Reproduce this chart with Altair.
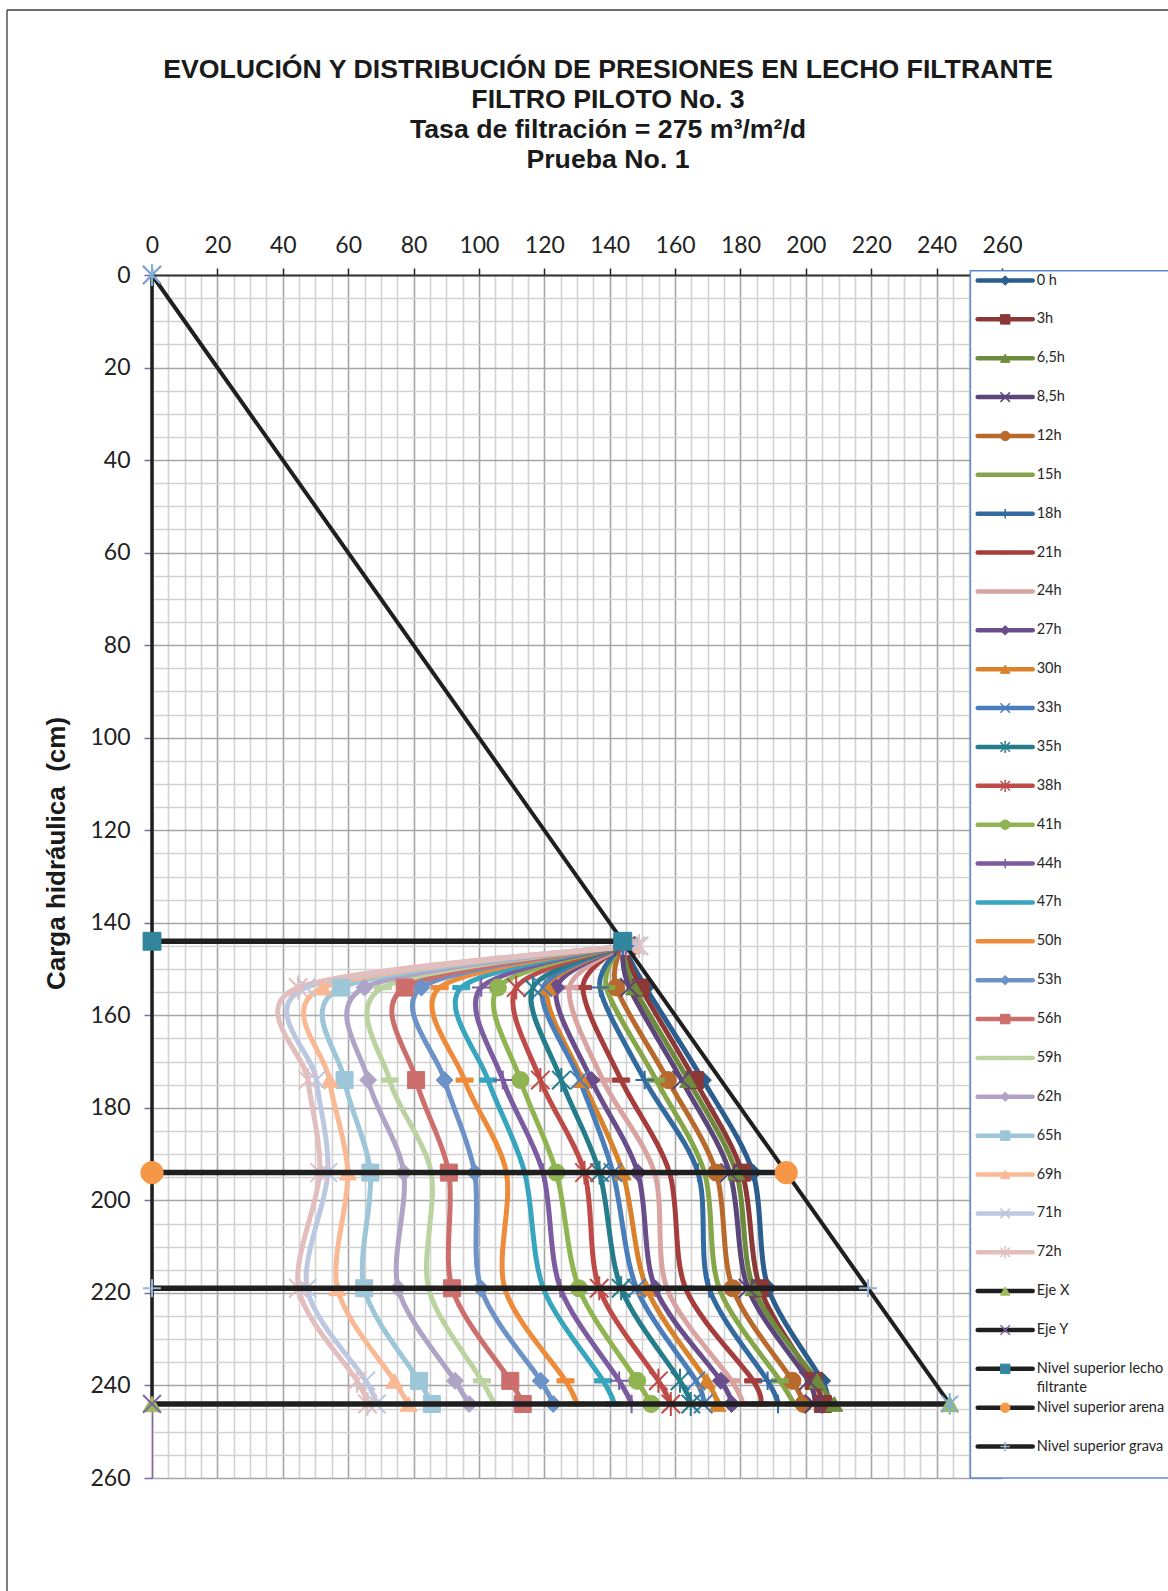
import altair as alt
import pandas as pd

# ---------------- data ----------------
series = ["0 h", "3h", "6,5h", "8,5h", "12h", "15h", "18h", "21h", "24h", "27h", "30h",
          "33h", "35h", "38h", "41h", "44h", "47h", "50h", "53h", "56h", "59h", "62h",
          "65h", "69h", "71h", "72h"]
depths = [145, 154, 174, 194, 219, 239, 244]
heads = [
    [144, 151.0, 168.5, 183.8, 188.5, 205.0, 206.5],   # 0 h
    [144, 149.5, 166.0, 180.5, 186.0, 202.4, 205.2],   # 3h
    [144, 147.5, 164.0, 178.7, 184.0, 203.5, 208.7],   # 6,5h
    [144, 146.0, 162.0, 176.7, 182.3, 200.8, 202.4],   # 8,5h
    [144, 142.0, 157.8, 172.6, 177.6, 195.9, 199.3],   # 12h
    [144, 139.0, 154.2, 169.0, 173.5, 192.1, 196.4],   # 15h
    [144, 137.0, 150.7, 167.0, 170.4, 188.3, 191.5],   # 18h
    [144, 131.8, 143.5, 158.3, 163.2, 183.9, 186.1],   # 21h
    [145, 127.7, 137.9, 153.7, 157.5, 177.3, 180.6],   # 24h
    [145, 123.7, 134.4, 148.6, 153.9, 174.0, 177.3],   # 27h
    [145, 121.1, 131.7, 144.0, 151.3, 169.7, 173.0],   # 30h
    [145, 119.6, 130.8, 141.0, 148.2, 166.4, 168.6],   # 33h
    [145, 116.5, 125.2, 136.9, 143.5, 161.5, 164.8],   # 35h
    [145, 111.4, 118.8, 132.3, 136.8, 154.9, 158.7],   # 38h
    [145, 105.8, 112.7, 123.7, 130.6, 148.4, 152.7],   # 41h
    [145, 100.7, 107.3, 119.6, 124.9, 142.9, 146.7],   # 44h
    [145, 94.6, 102.8, 114.0, 119.7, 138.0, 141.3],    # 47h
    [145, 88.0, 95.6, 108.4, 107.9, 126.5, 129.8],     # 50h
    [145, 82.4, 89.5, 98.7, 100.6, 118.9, 122.7],      # 53h
    [146, 77.3, 80.8, 90.8, 91.8, 109.6, 113.4],       # 56h
    [146, 70.6, 72.7, 85.4, 84.6, 100.9, 104.7],       # 59h
    [146, 65.0, 66.1, 77.0, 75.3, 92.7, 97.0],         # 62h
    [146, 57.9, 58.9, 66.8, 64.9, 81.7, 85.6],         # 65h
    [147, 52.3, 54.3, 59.9, 56.7, 74.1, 78.5],         # 69h
    [148, 47.2, 50.3, 53.8, 47.4, 65.4, 68.6],         # 71h
    [149, 44.7, 47.7, 51.3, 44.8, 62.7, 65.9],         # 72h
]
colors = ["#2C5D8F", "#8C3836", "#6E8B3D", "#5B467A", "#B8692C", "#86A64A", "#336AA0",
          "#A63D3D", "#D9A3A2", "#6A4E8C", "#D9822B", "#4A7EBB", "#257D8C", "#BE4B48",
          "#90B452", "#7C5CA1", "#37A5BD", "#EE8B3A", "#6D92C8", "#CC6E6C", "#BBD3A0",
          "#AFA4C6", "#9DC6D8", "#F8B994", "#BCC8E2", "#E2BFBE"]
markers = ["diamond", "square", "triangle", "x", "circle", "dash", "plus", "dash", "dash",
           "diamond", "triangle", "x", "asterisk", "asterisk", "circle", "plus", "dash", "dash",
           "diamond", "square", "dash", "diamond", "square", "triangle", "x", "asterisk"]

ref_names = ["Eje X", "Eje Y", "Nivel superior lecho filtrante", "Nivel superior arena",
             "Nivel superior grava"]
ref_x = [[0, 244], [0, 0], [0, 144], [0, 194], [0, 219]]
ref_y = [[244, 244], [0, 244], [144, 144], [194, 194], [219, 219]]
ref_colors = ["#9BBB59", "#8064A2", "#31859C", "#F79646", "#95B3D7"]
ref_markers = ["triangle", "x", "square", "circle", "plus"]
diag_x = [0, 244]
diag_y = [0, 244]
diag_color = "#7DB0DA"
diag_marker = "asterisk"

title_lines = ["EVOLUCIÓN Y DISTRIBUCIÓN DE PRESIONES EN LECHO FILTRANTE",
               "FILTRO PILOTO No. 3",
               "Tasa de filtración = 275 m³/m²/d",
               "Prueba No. 1"]
y_title = "Carga hidráulica\u00a0 (cm)"

# ---------------- styles ----------------
SHAPES = {
    "diamond": "diamond",
    "square": "square",
    "triangle": "triangle-up",
    "circle": "circle",
    "dash": "M-1,-0.25L1,-0.25L1,0.25L-1,0.25Z",
    "x": "M-1,-1L1,1M-1,1L1,-1",
    "plus": "M-1,0L1,0M0,-1L0,1",
    "asterisk": "M-1,-1L1,1M-1,1L1,-1M0,-1.3L0,1.3",
}
FILLED = {"diamond", "square", "triangle", "circle", "dash"}
BLACK = "#1F1F1F"

# ---------------- tables ----------------
rows = []
for s, c, m, h in zip(series, colors, markers, heads):
    for d, v in zip(depths, h):
        rows.append(dict(series=s, color=c, shape=SHAPES[m], filled=m in FILLED, x=v, y=d))
df = pd.DataFrame(rows)

ref_rows = []
for n, xs, ys, c, m in zip(ref_names, ref_x, ref_y, ref_colors, ref_markers):
    w = 3.5 if n == "Eje Y" else 5.5
    ms = 500 if m == "circle" else 320
    for k, (xv, yv) in enumerate(zip(xs, ys)):
        ref_rows.append(dict(name=n, k=k, x=xv, y=yv, w=w, color=c, shape=SHAPES[m],
                             filled=m in FILLED, ms=ms))
for k, (xv, yv) in enumerate(zip(diag_x, diag_y)):
    ref_rows.append(dict(name="diag", k=k, x=xv, y=yv, w=4, color=diag_color,
                         shape=SHAPES[diag_marker], filled=False, ms=280))
ref_df = pd.DataFrame(ref_rows)

wrap = {"Nivel superior lecho filtrante": "Nivel superior lecho\nfiltrante"}
leg_labels = series + ref_names
leg_df = pd.DataFrame(dict(
    li=list(range(len(leg_labels))),
    text=[wrap.get(t, t) for t in leg_labels],
    lc=colors + [BLACK] * len(ref_names),
    mc=colors + ref_colors,
    shape=[SHAPES[m] for m in markers + ref_markers],
    filled=[m in FILLED for m in markers + ref_markers],
))
title_df = pd.DataFrame({"t": ["\n".join(title_lines)]})

# ---------------- encodings ----------------
grid_vals = list(range(0, 261, 5))
major = "datum.value % 20 === 0"
axis_x = alt.Axis(
    orient="top", values=grid_vals, title=None,
    labelExpr=f"{major} ? datum.label : ''", labelOverlap=False, labelFlush=False,
    labelFont="Lato", labelFontSize=23, labelColor="#222222", labelPadding=11,
    tickSize=7, tickColor="#222222", tickWidth=1.5,
    tickOpacity={"condition": {"test": major, "value": 1}, "value": 0},
    grid=True, gridWidth=1.6,
    gridColor={"condition": {"test": major, "value": "#A6A6A6"}, "value": "#D2D2D2"},
    domainColor="#333333", domainWidth=2,
)
axis_y = alt.Axis(
    orient="left", values=grid_vals, title=y_title,
    labelExpr=f"{major} ? datum.label : ''", labelOverlap=False, labelFlush=False,
    labelFont="Lato", labelFontSize=23, labelColor="#222222", labelPadding=14,
    tickSize=8, tickColor="#7F6AA6", tickWidth=1.5,
    tickOpacity={"condition": {"test": major, "value": 1}, "value": 0},
    grid=True, gridWidth=1.6,
    gridColor={"condition": {"test": major, "value": "#A6A6A6"}, "value": "#D2D2D2"},
    domainColor="#7F6AA6", domainWidth=1.5,
    titleFont="Liberation Sans", titleFontSize=26, titleFontWeight="bold", titleColor="#1A1A1A",
    titleX=-96, titleY=578, titleAngle=270, titleBaseline="middle", titleAlign="center",
)
X = alt.X("x:Q", scale=alt.Scale(domain=[0, 260], nice=False, zero=False), axis=axis_x)
Y = alt.Y("y:Q", scale=alt.Scale(domain=[0, 260], nice=False, zero=False, reverse=True), axis=axis_y)

curves = alt.Chart(df).mark_line(
    interpolate="cardinal", tension=0.1, strokeWidth=5, strokeCap="round", strokeJoin="round"
).encode(x=X, y=Y, color=alt.Color("color:N", scale=None), detail="series:N", order="y:Q")

pts_f = alt.Chart(df).transform_filter("datum.filled").mark_point(
    filled=True, opacity=1, size=290, strokeWidth=1
).encode(x=X, y=Y, fill=alt.Fill("color:N", scale=None), stroke=alt.Stroke("color:N", scale=None),
         shape=alt.Shape("shape:N", scale=None))
pts_s = alt.Chart(df).transform_filter("!datum.filled").mark_point(
    filled=False, opacity=1, size=340, strokeWidth=2
).encode(x=X, y=Y, stroke=alt.Stroke("color:N", scale=None), shape=alt.Shape("shape:N", scale=None))

ref_lines = alt.Chart(ref_df).mark_line(color=BLACK, strokeCap="butt").encode(
    x=X, y=Y, detail="name:N", order="k:Q", strokeWidth=alt.StrokeWidth("w:Q", scale=None))
ref_pf = alt.Chart(ref_df).transform_filter("datum.filled").mark_point(
    filled=True, opacity=1, strokeWidth=1
).encode(x=X, y=Y, fill=alt.Fill("color:N", scale=None), stroke=alt.Stroke("color:N", scale=None),
         shape=alt.Shape("shape:N", scale=None), size=alt.Size("ms:Q", scale=None))
ref_ps = alt.Chart(ref_df).transform_filter("!datum.filled").mark_point(
    filled=False, opacity=1, strokeWidth=2
).encode(x=X, y=Y, stroke=alt.Stroke("color:N", scale=None),
         shape=alt.Shape("shape:N", scale=None), size=alt.Size("ms:Q", scale=None))

main = alt.layer(curves, pts_f, pts_s, ref_lines, ref_pf, ref_ps)

# ---------------- legend, title and frame (drawn) ----------------
one = pd.DataFrame({"a": [0]})
LY = alt.Y("li:Q", scale=alt.Scale(domain=[0, len(leg_labels) - 1], range=[5.5, 1171.6]), axis=None)
lg_box = alt.Chart(one).mark_rect(fill="white", stroke="#5B8BC9", strokeWidth=1.5).encode(
    x=alt.value(818.4), x2=alt.value(1060), y=alt.value(-4.3), y2=alt.value(1203))
frame_top = alt.Chart(one).mark_rule(color="#3A3A3A", strokeWidth=1.3).encode(
    x=alt.value(-145), x2=alt.value(1100), y=alt.value(-265))
frame_left = alt.Chart(one).mark_rule(color="#3A3A3A", strokeWidth=1.3).encode(
    x=alt.value(-145), y=alt.value(-265), y2=alt.value(1400))
title_txt = alt.Chart(title_df).mark_text(
    align="center", baseline="middle", font="Liberation Sans", fontSize=26.7, fontWeight="bold",
    color="#1A1A1A", lineBreak="\n", lineHeight=30
).encode(x=alt.value(456), y=alt.value(-205), text="t:N")
lg_lines = alt.Chart(leg_df).mark_rule(strokeWidth=4.5, strokeCap="round").encode(
    x=alt.value(825.7), x2=alt.value(880.7), y=LY, color=alt.Color("lc:N", scale=None))
lg_pf = alt.Chart(leg_df).transform_filter("datum.filled").mark_point(
    filled=True, opacity=1, size=90, strokeWidth=1
).encode(x=alt.value(853.2), y=LY, fill=alt.Fill("mc:N", scale=None),
         stroke=alt.Stroke("mc:N", scale=None), shape=alt.Shape("shape:N", scale=None))
lg_ps = alt.Chart(leg_df).transform_filter("!datum.filled").mark_point(
    filled=False, opacity=1, size=90, strokeWidth=1.5
).encode(x=alt.value(853.2), y=LY, stroke=alt.Stroke("mc:N", scale=None),
         shape=alt.Shape("shape:N", scale=None))
lg_text = alt.Chart(leg_df).mark_text(
    align="left", baseline="top", dy=-7, fontSize=14.5, font="Lato", color="#262626",
    lineBreak="\n", lineHeight=19
).encode(x=alt.value(884.7), y=LY, text="text:N")

legend = alt.layer(frame_top, frame_left, title_txt, lg_box, lg_lines, lg_pf, lg_ps, lg_text)

chart = alt.layer(main, legend).resolve_scale(y="independent").properties(
    width=850, height=1203,
    autosize=alt.AutoSizeParams(type="none"),
    padding={"left": 152, "top": 275, "right": 166, "bottom": 113},
).configure_view(stroke=None).configure(background="white")

chart.save("out.html", embed_options={"renderer": "svg", "actions": False})
